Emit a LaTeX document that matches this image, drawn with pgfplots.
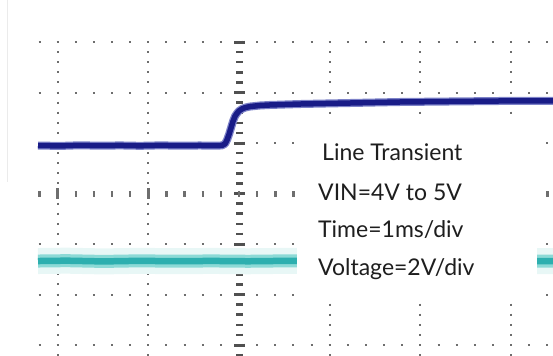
\documentclass[border=0pt]{standalone}
\usepackage{pgfplots}
\usepackage{pgfplotstable}
\pgfplotsset{compat=1.18}
\usepackage{fontspec}
\setmainfont{Lato}
\definecolor{trblue}{RGB}{25,28,135}
\definecolor{trbluehalo}{RGB}{125,130,200}
\definecolor{trcyan}{RGB}{45,175,175}
\definecolor{trcyanband}{RGB}{140,218,214}
\definecolor{trcyanhalo}{RGB}{232,247,246}
\definecolor{dotgray}{RGB}{110,110,110}
\definecolor{bargray}{RGB}{80,80,80}
\definecolor{txt}{RGB}{30,30,30}

% blue trace (VIN): x in div (1 ms/div), y in div (2 V/div)
\pgfplotstableread{
t v
-2.216 0.950
-1.974 0.942
-1.753 0.955
-1.533 0.946
-1.312 0.952
-1.092 0.944
-0.871 0.953
-0.650 0.947
-0.430 0.951
-0.265 0.946
-0.187 0.952
-0.154 0.985
-0.132 1.060
-0.110 1.170
-0.088 1.300
-0.066 1.430
-0.044 1.530
-0.022 1.590
0.000 1.635
0.033 1.675
0.066 1.700
0.121 1.722
0.232 1.743
0.342 1.753
0.673 1.772
1.224 1.792
1.775 1.812
2.326 1.822
2.878 1.832
3.462 1.832
}\bluetrace

% cyan trace (VOUT)
\pgfplotstableread{
t v
-2.216 -1.337
-1.900 -1.330
-1.500 -1.345
-1.100 -1.333
-0.700 -1.341
-0.300 -1.335
0.100 -1.342
0.500 -1.334
0.900 -1.340
1.300 -1.336
1.700 -1.343
2.100 -1.334
2.500 -1.339
2.900 -1.335
3.462 -1.338
}\cyantrace

\begin{document}
\begin{tikzpicture}
\begin{axis}[
  width=553pt, height=355pt, scale only axis,
  xmin=-2.6351, xmax=3.4620, ymin=-3.1980, ymax=3.8317,
  axis line style={draw=none},
  xtick=\empty, ytick=\empty,
  clip=true,
]
% faint frame line at the left
\draw[black!8, line width=1pt] (axis cs:-2.547,3.9) -- (axis cs:-2.547,0.228);

% graticule: vertical lines
\pgfplotsinvokeforeach{-2,-1,1,2,3}{
  \draw[dotgray, line width=2pt, dash pattern=on 2pt off 8.1pt]
    (axis cs:#1,3.0198) -- (axis cs:#1,-3.4);
}
% graticule: horizontal lines
\pgfplotsinvokeforeach{3,2,1,-1,-2,-3}{
  \draw[dotgray, line width=2pt, dash pattern=on 2pt off 16.14pt]
    (axis cs:-2.2106,#1) -- (axis cs:3.6,#1);
}
% centre vertical axis with ticks
\draw[bargray, line width=7pt, dash pattern=on 2.5pt off 7.6pt]
  (axis cs:0,3.0248) -- (axis cs:0,-3.4);
\draw[bargray, line width=11pt, dash pattern=on 3pt off 47.5pt]
  (axis cs:0,3.0297) -- (axis cs:0,-3.4);
% centre horizontal axis with ticks
\draw[dotgray, line width=6pt, dash pattern=on 2.5pt off 15.64pt]
  (axis cs:-2.2133,0) -- (axis cs:3.6,0);
\draw[dotgray, line width=11pt, dash pattern=on 2.5pt off 88.2pt]
  (axis cs:-2.0138,0) -- (axis cs:-0.2,0);

% traces
\addplot[trcyanhalo, line width=26pt, no markers] table {\cyantrace};
\addplot[trcyanband, line width=13pt, no markers] table {\cyantrace};
\addplot[trcyan, line width=6.5pt, no markers] table {\cyantrace};
\addplot[trbluehalo, line width=8pt, no markers, line join=round] table {\bluetrace};
\addplot[trblue, line width=5.5pt, no markers, line join=round] table {\bluetrace};

% annotation box
\fill[white] (axis cs:0.639,1.475) rectangle (axis cs:3.286,-2.168);
\node[anchor=base west, inner sep=0pt, text=txt, font=\fontsize{23}{27}\selectfont]
  at (axis cs:0.915,0.644) {Line Transient};
\node[anchor=base west, inner sep=0pt, text=txt, font=\fontsize{23}{27}\selectfont]
  at (axis cs:0.871,-0.129) {VIN=4V to 5V};
\node[anchor=base west, inner sep=0pt, text=txt, font=\fontsize{23}{27}\selectfont]
  at (axis cs:0.871,-0.881) {Time=1ms/div};
\node[anchor=base west, inner sep=0pt, text=txt, font=\fontsize{23}{27}\selectfont]
  at (axis cs:0.871,-1.614) {Voltage=2V/div};
\end{axis}
\pgfresetboundingbox
\useasboundingbox (current axis.south west) rectangle (current axis.north east);
\end{tikzpicture}
\end{document}
